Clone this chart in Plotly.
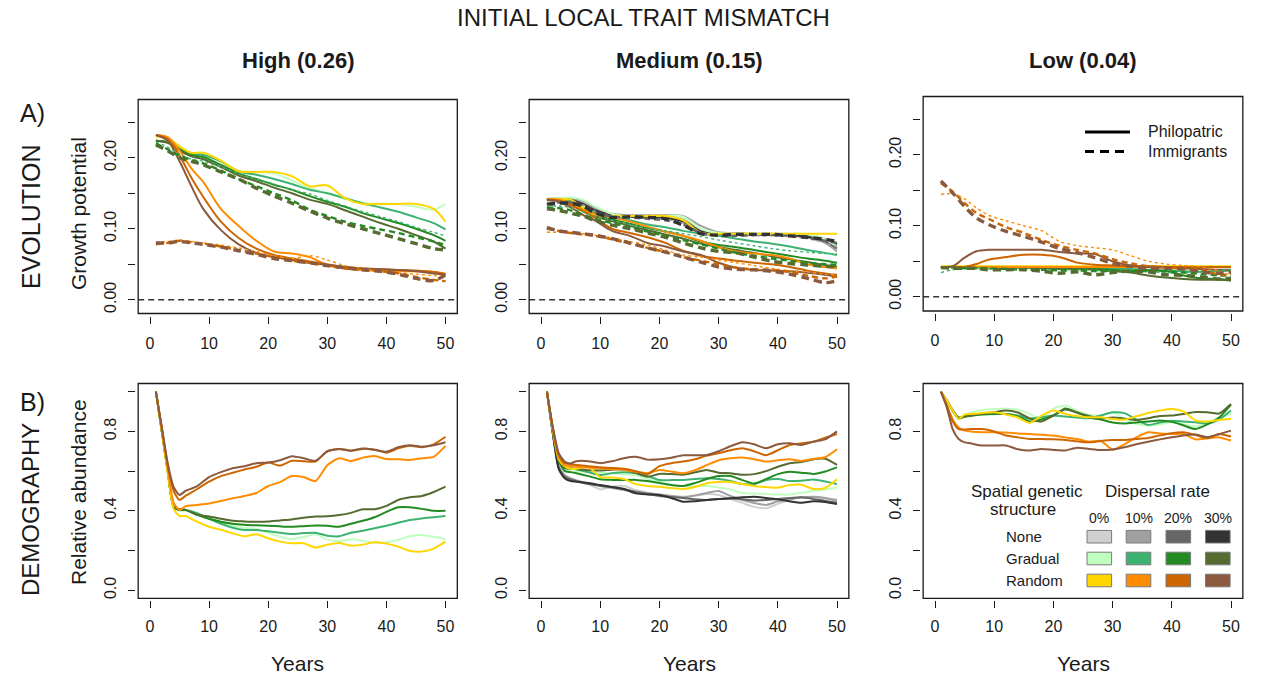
import plotly.graph_objects as go

W, H = 1266, 677
FONT = "Liberation Sans, Arial, Helvetica, sans-serif"
INK = "#1a1a1a"

# ---------------------------------------------------------------- data
YEARS_A = [1, 3, 5, 7, 9, 12, 15, 18, 21, 24, 27, 30, 33, 36, 39, 42, 45, 48, 50]
YEARS_B = [1, 2, 3, 4, 5, 6, 8, 10, 12, 14, 16, 18, 20, 22, 24, 26, 28, 30, 32,
           34, 36, 38, 40, 42, 44, 46, 48, 50]

STRUCTURES = ["None", "Gradual", "Random"]
RATES = ["0%", "10%", "20%", "30%"]
COLUMN_TITLES = ["High (0.26)", "Medium (0.15)", "Low (0.04)"]
X_TICKS = [0, 10, 20, 30, 40, 50]
A_TICKS = [0.0, 0.05, 0.10, 0.15, 0.20, 0.25]
A_TICK_TEXT = ["0.00", "", "0.10", "", "0.20", ""]
B_TICKS = [0.0, 0.2, 0.4, 0.6, 0.8, 1.0]
B_TICK_TEXT = ["0.0", "", "0.4", "", "0.8", ""]

# Growth potential, high mismatch (philopatric: 0,10,20,30 %; immigrants: 10,20,30 %)
HIGH_PHIL_GRADUAL = [
    [0.224, 0.222, 0.215, 0.207, 0.205, 0.195, 0.181, 0.180, 0.178, 0.168, 0.157, 0.150, 0.142, 0.136, 0.135, 0.135, 0.131, 0.127, 0.135],
    [0.224, 0.222, 0.214, 0.206, 0.204, 0.195, 0.181, 0.176, 0.170, 0.163, 0.155, 0.150, 0.143, 0.136, 0.130, 0.124, 0.116, 0.108, 0.099],
    [0.224, 0.222, 0.212, 0.204, 0.201, 0.190, 0.178, 0.170, 0.162, 0.155, 0.146, 0.138, 0.131, 0.122, 0.115, 0.108, 0.100, 0.091, 0.083],
    [0.224, 0.221, 0.210, 0.202, 0.198, 0.187, 0.175, 0.167, 0.158, 0.150, 0.141, 0.135, 0.126, 0.117, 0.108, 0.100, 0.091, 0.082, 0.072],
]
HIGH_PHIL_RANDOM = [
    [0.230, 0.228, 0.216, 0.207, 0.207, 0.196, 0.181, 0.180, 0.180, 0.174, 0.160, 0.161, 0.143, 0.135, 0.135, 0.135, 0.135, 0.128, 0.110],
    [0.232, 0.229, 0.210, 0.185, 0.166, 0.128, 0.104, 0.083, 0.068, 0.065, 0.060, 0.049, 0.044, 0.042, 0.041, 0.040, 0.040, 0.039, 0.037],
    [0.232, 0.226, 0.203, 0.172, 0.145, 0.110, 0.087, 0.072, 0.063, 0.058, 0.054, 0.050, 0.046, 0.044, 0.043, 0.042, 0.041, 0.039, 0.036],
    [0.232, 0.224, 0.195, 0.160, 0.128, 0.098, 0.078, 0.066, 0.060, 0.056, 0.052, 0.049, 0.046, 0.044, 0.043, 0.042, 0.040, 0.037, 0.035],
]
HIGH_IMM_GRADUAL = [
    [0.222, 0.215, 0.205, 0.198, 0.195, 0.187, 0.178, 0.170, 0.163, 0.155, 0.149, 0.140, 0.132, 0.124, 0.117, 0.110, 0.102, 0.095, 0.090],
    [0.220, 0.212, 0.203, 0.197, 0.192, 0.182, 0.170, 0.160, 0.150, 0.140, 0.127, 0.118, 0.110, 0.104, 0.099, 0.094, 0.088, 0.082, 0.077],
    [0.218, 0.210, 0.200, 0.195, 0.190, 0.180, 0.170, 0.157, 0.146, 0.136, 0.125, 0.115, 0.107, 0.100, 0.093, 0.086, 0.079, 0.072, 0.070],
]
HIGH_IMM_RANDOM = [
    [0.080, 0.082, 0.084, 0.082, 0.080, 0.077, 0.073, 0.068, 0.062, 0.058, 0.062, 0.056, 0.048, 0.044, 0.041, 0.038, 0.036, 0.034, 0.033],
    [0.078, 0.080, 0.083, 0.081, 0.079, 0.075, 0.070, 0.065, 0.060, 0.055, 0.052, 0.048, 0.044, 0.042, 0.040, 0.037, 0.032, 0.028, 0.026],
    [0.080, 0.080, 0.082, 0.080, 0.078, 0.074, 0.069, 0.064, 0.058, 0.055, 0.052, 0.048, 0.045, 0.042, 0.040, 0.036, 0.030, 0.027, 0.035],
]

# Growth potential, medium mismatch
MEDIUM_PHIL_NONE = [
    [0.142, 0.143, 0.142, 0.136, 0.126, 0.119, 0.118, 0.118, 0.118, 0.115, 0.098, 0.094, 0.093, 0.093, 0.093, 0.093, 0.092, 0.086, 0.080],
    [0.142, 0.143, 0.143, 0.140, 0.130, 0.121, 0.119, 0.119, 0.119, 0.118, 0.104, 0.095, 0.094, 0.093, 0.093, 0.092, 0.090, 0.080, 0.068],
    [0.141, 0.142, 0.141, 0.136, 0.127, 0.120, 0.118, 0.117, 0.116, 0.112, 0.097, 0.093, 0.092, 0.092, 0.092, 0.091, 0.088, 0.082, 0.072],
    [0.141, 0.142, 0.140, 0.135, 0.126, 0.119, 0.117, 0.116, 0.115, 0.110, 0.096, 0.093, 0.092, 0.092, 0.092, 0.091, 0.089, 0.085, 0.078],
]
MEDIUM_PHIL_GRADUAL = [
    [0.142, 0.143, 0.144, 0.141, 0.132, 0.121, 0.118, 0.118, 0.118, 0.117, 0.100, 0.094, 0.093, 0.093, 0.093, 0.093, 0.092, 0.085, 0.075],
    [0.142, 0.141, 0.138, 0.130, 0.123, 0.117, 0.112, 0.106, 0.102, 0.097, 0.093, 0.090, 0.086, 0.082, 0.079, 0.075, 0.070, 0.066, 0.063],
    [0.141, 0.140, 0.136, 0.128, 0.120, 0.113, 0.107, 0.101, 0.096, 0.090, 0.082, 0.077, 0.074, 0.070, 0.066, 0.062, 0.058, 0.055, 0.052],
    [0.140, 0.139, 0.134, 0.126, 0.118, 0.111, 0.104, 0.098, 0.092, 0.086, 0.079, 0.074, 0.070, 0.066, 0.061, 0.057, 0.053, 0.049, 0.046],
]
MEDIUM_PHIL_RANDOM = [
    [0.142, 0.142, 0.141, 0.130, 0.120, 0.118, 0.118, 0.118, 0.118, 0.112, 0.094, 0.093, 0.093, 0.093, 0.093, 0.093, 0.093, 0.093, 0.093],
    [0.142, 0.141, 0.136, 0.127, 0.121, 0.116, 0.110, 0.103, 0.096, 0.090, 0.083, 0.074, 0.068, 0.065, 0.063, 0.058, 0.050, 0.046, 0.044],
    [0.141, 0.140, 0.133, 0.125, 0.116, 0.100, 0.094, 0.088, 0.080, 0.069, 0.062, 0.058, 0.055, 0.052, 0.050, 0.046, 0.041, 0.037, 0.035],
    [0.141, 0.138, 0.130, 0.120, 0.112, 0.097, 0.090, 0.080, 0.075, 0.068, 0.063, 0.052, 0.045, 0.042, 0.041, 0.040, 0.038, 0.035, 0.032],
]
MEDIUM_IMM_NONE = [
    [0.136, 0.138, 0.138, 0.134, 0.125, 0.118, 0.116, 0.115, 0.113, 0.108, 0.095, 0.091, 0.090, 0.090, 0.090, 0.089, 0.086, 0.080, 0.075],
    [0.135, 0.137, 0.137, 0.133, 0.124, 0.117, 0.116, 0.114, 0.112, 0.106, 0.094, 0.090, 0.090, 0.091, 0.091, 0.090, 0.087, 0.083, 0.080],
    [0.134, 0.136, 0.136, 0.132, 0.123, 0.116, 0.117, 0.116, 0.114, 0.105, 0.093, 0.091, 0.092, 0.092, 0.092, 0.090, 0.088, 0.085, 0.082],
]
MEDIUM_IMM_GRADUAL = [
    [0.132, 0.132, 0.130, 0.124, 0.118, 0.112, 0.106, 0.101, 0.097, 0.093, 0.089, 0.084, 0.080, 0.076, 0.072, 0.069, 0.067, 0.065, 0.065],
    [0.130, 0.129, 0.126, 0.120, 0.114, 0.108, 0.102, 0.096, 0.090, 0.084, 0.078, 0.072, 0.066, 0.062, 0.058, 0.055, 0.052, 0.050, 0.049],
    [0.128, 0.126, 0.122, 0.118, 0.112, 0.105, 0.100, 0.094, 0.088, 0.080, 0.073, 0.068, 0.066, 0.060, 0.054, 0.051, 0.049, 0.047, 0.047],
]
MEDIUM_IMM_RANDOM = [
    [0.095, 0.095, 0.094, 0.093, 0.091, 0.087, 0.082, 0.077, 0.070, 0.063, 0.060, 0.056, 0.052, 0.048, 0.044, 0.041, 0.039, 0.036, 0.035],
    [0.100, 0.097, 0.094, 0.092, 0.090, 0.085, 0.079, 0.073, 0.067, 0.060, 0.055, 0.050, 0.045, 0.043, 0.042, 0.039, 0.034, 0.030, 0.033],
    [0.102, 0.097, 0.095, 0.093, 0.091, 0.086, 0.080, 0.073, 0.067, 0.060, 0.053, 0.046, 0.043, 0.042, 0.040, 0.036, 0.030, 0.024, 0.027],
]

# Growth potential, low mismatch
LOW_PHIL_GRADUAL = [
    [0.042, 0.042, 0.043, 0.043, 0.043, 0.043, 0.042, 0.042, 0.042, 0.042, 0.042, 0.042, 0.042, 0.042, 0.042, 0.042, 0.042, 0.042, 0.042],
    [0.042, 0.042, 0.042, 0.042, 0.042, 0.042, 0.042, 0.041, 0.041, 0.041, 0.040, 0.040, 0.039, 0.038, 0.037, 0.036, 0.035, 0.036, 0.037],
    [0.042, 0.042, 0.042, 0.042, 0.041, 0.041, 0.041, 0.041, 0.040, 0.040, 0.039, 0.038, 0.036, 0.037, 0.036, 0.030, 0.026, 0.025, 0.023],
    [0.042, 0.042, 0.042, 0.042, 0.041, 0.041, 0.041, 0.040, 0.039, 0.039, 0.038, 0.036, 0.034, 0.030, 0.027, 0.025, 0.024, 0.024, 0.023],
]
LOW_PHIL_RANDOM = [
    [0.043, 0.043, 0.043, 0.043, 0.043, 0.043, 0.043, 0.043, 0.043, 0.043, 0.043, 0.043, 0.043, 0.043, 0.043, 0.043, 0.043, 0.043, 0.043],
    [0.042, 0.042, 0.042, 0.042, 0.042, 0.042, 0.042, 0.042, 0.042, 0.042, 0.042, 0.042, 0.042, 0.042, 0.042, 0.042, 0.042, 0.042, 0.042],
    [0.042, 0.042, 0.042, 0.046, 0.052, 0.056, 0.059, 0.059, 0.056, 0.048, 0.045, 0.044, 0.043, 0.043, 0.042, 0.042, 0.042, 0.042, 0.042],
    [0.042, 0.043, 0.055, 0.064, 0.066, 0.066, 0.066, 0.066, 0.063, 0.061, 0.060, 0.050, 0.044, 0.042, 0.041, 0.040, 0.039, 0.038, 0.038],
]
LOW_IMM_GRADUAL = [
    [0.034, 0.038, 0.040, 0.040, 0.039, 0.039, 0.038, 0.038, 0.038, 0.038, 0.037, 0.036, 0.036, 0.035, 0.034, 0.034, 0.035, 0.037, 0.038],
    [0.041, 0.041, 0.040, 0.040, 0.040, 0.039, 0.038, 0.038, 0.037, 0.037, 0.036, 0.036, 0.036, 0.037, 0.036, 0.034, 0.032, 0.030, 0.030],
    [0.041, 0.040, 0.040, 0.040, 0.038, 0.038, 0.038, 0.036, 0.033, 0.035, 0.031, 0.034, 0.036, 0.035, 0.031, 0.030, 0.028, 0.025, 0.026],
]
LOW_IMM_RANDOM = [
    [0.144, 0.145, 0.138, 0.125, 0.115, 0.107, 0.100, 0.093, 0.078, 0.072, 0.069, 0.066, 0.058, 0.050, 0.046, 0.044, 0.042, 0.036, 0.030],
    [0.160, 0.148, 0.132, 0.118, 0.110, 0.098, 0.090, 0.080, 0.072, 0.066, 0.061, 0.053, 0.047, 0.043, 0.041, 0.040, 0.038, 0.031, 0.032],
    [0.163, 0.146, 0.127, 0.111, 0.102, 0.092, 0.085, 0.077, 0.068, 0.062, 0.055, 0.047, 0.043, 0.040, 0.040, 0.039, 0.035, 0.033, 0.035],
]

# Relative abundance (0, 10, 20, 30 % dispersal)
HIGH_ABUND_GRADUAL = [
    [1.0, 0.80, 0.60, 0.42, 0.400, 0.400, 0.378, 0.360, 0.345, 0.325, 0.315, 0.308, 0.290, 0.270, 0.258, 0.268, 0.284, 0.255, 0.248, 0.257, 0.250, 0.240, 0.242, 0.255, 0.272, 0.279, 0.270, 0.258],
    [1.0, 0.80, 0.60, 0.42, 0.404, 0.405, 0.388, 0.360, 0.335, 0.315, 0.304, 0.304, 0.297, 0.290, 0.284, 0.288, 0.290, 0.275, 0.272, 0.290, 0.300, 0.312, 0.325, 0.340, 0.354, 0.362, 0.368, 0.374],
    [1.0, 0.80, 0.60, 0.42, 0.404, 0.405, 0.380, 0.360, 0.345, 0.335, 0.330, 0.327, 0.325, 0.322, 0.320, 0.323, 0.326, 0.325, 0.320, 0.335, 0.350, 0.368, 0.395, 0.418, 0.418, 0.410, 0.400, 0.400],
    [1.0, 0.80, 0.60, 0.42, 0.408, 0.405, 0.380, 0.372, 0.360, 0.350, 0.347, 0.345, 0.346, 0.352, 0.357, 0.365, 0.371, 0.373, 0.379, 0.390, 0.408, 0.408, 0.425, 0.455, 0.468, 0.475, 0.495, 0.522],
]
HIGH_ABUND_RANDOM = [
    [1.0, 0.80, 0.59, 0.41, 0.374, 0.374, 0.345, 0.320, 0.305, 0.287, 0.272, 0.282, 0.262, 0.245, 0.237, 0.237, 0.215, 0.230, 0.238, 0.225, 0.230, 0.242, 0.235, 0.220, 0.198, 0.195, 0.210, 0.245],
    [1.0, 0.81, 0.61, 0.44, 0.404, 0.424, 0.430, 0.437, 0.450, 0.463, 0.475, 0.490, 0.525, 0.545, 0.575, 0.570, 0.550, 0.630, 0.665, 0.651, 0.668, 0.676, 0.661, 0.660, 0.656, 0.665, 0.672, 0.727],
    [1.0, 0.82, 0.63, 0.50, 0.455, 0.475, 0.510, 0.547, 0.575, 0.592, 0.608, 0.622, 0.643, 0.628, 0.652, 0.650, 0.648, 0.700, 0.712, 0.703, 0.712, 0.708, 0.693, 0.715, 0.728, 0.720, 0.735, 0.773],
    [1.0, 0.82, 0.64, 0.52, 0.480, 0.500, 0.525, 0.570, 0.595, 0.615, 0.625, 0.640, 0.643, 0.655, 0.675, 0.665, 0.652, 0.700, 0.712, 0.703, 0.714, 0.708, 0.698, 0.720, 0.730, 0.723, 0.730, 0.745],
]
MEDIUM_ABUND_NONE = [
    [1.0, 0.79, 0.62, 0.580, 0.565, 0.555, 0.535, 0.508, 0.522, 0.525, 0.505, 0.490, 0.480, 0.475, 0.471, 0.475, 0.485, 0.480, 0.460, 0.440, 0.420, 0.413, 0.435, 0.455, 0.470, 0.467, 0.462, 0.458],
    [1.0, 0.79, 0.62, 0.578, 0.563, 0.552, 0.540, 0.525, 0.515, 0.505, 0.498, 0.490, 0.483, 0.475, 0.468, 0.478, 0.490, 0.500, 0.475, 0.455, 0.440, 0.430, 0.448, 0.458, 0.467, 0.471, 0.465, 0.451],
    [1.0, 0.79, 0.62, 0.572, 0.558, 0.550, 0.535, 0.527, 0.520, 0.510, 0.495, 0.485, 0.475, 0.470, 0.465, 0.458, 0.455, 0.460, 0.462, 0.458, 0.452, 0.455, 0.460, 0.465, 0.468, 0.460, 0.450, 0.441],
    [1.0, 0.79, 0.61, 0.564, 0.550, 0.547, 0.540, 0.530, 0.520, 0.510, 0.488, 0.483, 0.480, 0.465, 0.446, 0.448, 0.455, 0.460, 0.463, 0.468, 0.471, 0.465, 0.458, 0.448, 0.441, 0.448, 0.445, 0.434],
]
MEDIUM_ABUND_GRADUAL = [
    [1.0, 0.80, 0.66, 0.605, 0.600, 0.598, 0.595, 0.592, 0.588, 0.584, 0.580, 0.560, 0.545, 0.530, 0.525, 0.525, 0.525, 0.518, 0.508, 0.490, 0.487, 0.485, 0.482, 0.482, 0.492, 0.500, 0.508, 0.518],
    [1.0, 0.81, 0.66, 0.620, 0.615, 0.610, 0.595, 0.580, 0.590, 0.595, 0.590, 0.575, 0.555, 0.555, 0.556, 0.560, 0.564, 0.560, 0.550, 0.535, 0.535, 0.555, 0.560, 0.550, 0.552, 0.558, 0.548, 0.535],
    [1.0, 0.80, 0.65, 0.600, 0.595, 0.589, 0.575, 0.559, 0.556, 0.555, 0.556, 0.550, 0.540, 0.530, 0.525, 0.540, 0.560, 0.575, 0.575, 0.555, 0.538, 0.560, 0.585, 0.597, 0.592, 0.586, 0.598, 0.619],
    [1.0, 0.81, 0.66, 0.615, 0.612, 0.610, 0.605, 0.603, 0.607, 0.609, 0.590, 0.572, 0.586, 0.585, 0.582, 0.594, 0.606, 0.592, 0.589, 0.582, 0.585, 0.600, 0.622, 0.640, 0.646, 0.660, 0.662, 0.631],
]
MEDIUM_ABUND_RANDOM = [
    [1.0, 0.81, 0.66, 0.625, 0.612, 0.612, 0.622, 0.570, 0.568, 0.560, 0.535, 0.525, 0.522, 0.515, 0.510, 0.520, 0.539, 0.545, 0.545, 0.535, 0.525, 0.520, 0.517, 0.530, 0.532, 0.510, 0.515, 0.559],
    [1.0, 0.81, 0.67, 0.630, 0.625, 0.622, 0.618, 0.614, 0.610, 0.606, 0.597, 0.590, 0.606, 0.598, 0.589, 0.605, 0.630, 0.655, 0.665, 0.669, 0.660, 0.648, 0.655, 0.660, 0.651, 0.662, 0.670, 0.710],
    [1.0, 0.82, 0.68, 0.640, 0.635, 0.631, 0.625, 0.619, 0.616, 0.612, 0.600, 0.585, 0.625, 0.640, 0.648, 0.660, 0.678, 0.690, 0.705, 0.715, 0.700, 0.680, 0.705, 0.732, 0.740, 0.748, 0.768, 0.787],
    [1.0, 0.82, 0.69, 0.648, 0.639, 0.650, 0.650, 0.640, 0.650, 0.665, 0.672, 0.658, 0.660, 0.668, 0.680, 0.680, 0.681, 0.700, 0.725, 0.745, 0.735, 0.715, 0.735, 0.740, 0.732, 0.748, 0.760, 0.800],
]
LOW_ABUND_GRADUAL = [
    [1.0, 0.955, 0.905, 0.865, 0.880, 0.895, 0.908, 0.913, 0.916, 0.910, 0.888, 0.863, 0.915, 0.930, 0.905, 0.885, 0.880, 0.896, 0.862, 0.837, 0.830, 0.835, 0.846, 0.837, 0.825, 0.845, 0.870, 0.888],
    [1.0, 0.955, 0.905, 0.865, 0.875, 0.885, 0.888, 0.888, 0.888, 0.880, 0.865, 0.872, 0.880, 0.875, 0.870, 0.866, 0.880, 0.896, 0.892, 0.860, 0.832, 0.845, 0.854, 0.850, 0.846, 0.840, 0.860, 0.905],
    [1.0, 0.955, 0.905, 0.865, 0.875, 0.879, 0.885, 0.888, 0.888, 0.875, 0.850, 0.860, 0.880, 0.915, 0.895, 0.870, 0.860, 0.845, 0.840, 0.845, 0.850, 0.855, 0.848, 0.830, 0.812, 0.835, 0.870, 0.935],
    [1.0, 0.955, 0.905, 0.870, 0.875, 0.879, 0.890, 0.897, 0.905, 0.895, 0.865, 0.850, 0.880, 0.910, 0.895, 0.878, 0.866, 0.870, 0.865, 0.858, 0.866, 0.878, 0.880, 0.888, 0.898, 0.896, 0.890, 0.938],
]
LOW_ABUND_RANDOM = [
    [1.0, 0.955, 0.905, 0.863, 0.885, 0.888, 0.893, 0.896, 0.885, 0.870, 0.843, 0.880, 0.905, 0.888, 0.878, 0.871, 0.871, 0.862, 0.860, 0.876, 0.893, 0.905, 0.913, 0.900, 0.855, 0.850, 0.858, 0.863],
    [1.0, 0.93, 0.86, 0.820, 0.804, 0.800, 0.796, 0.796, 0.795, 0.790, 0.787, 0.783, 0.779, 0.770, 0.762, 0.748, 0.752, 0.708, 0.735, 0.770, 0.796, 0.790, 0.787, 0.787, 0.760, 0.765, 0.770, 0.754],
    [1.0, 0.93, 0.85, 0.812, 0.810, 0.812, 0.812, 0.800, 0.779, 0.770, 0.762, 0.762, 0.760, 0.757, 0.750, 0.745, 0.752, 0.757, 0.757, 0.762, 0.767, 0.780, 0.791, 0.796, 0.782, 0.766, 0.787, 0.774],
    [1.0, 0.92, 0.81, 0.762, 0.745, 0.740, 0.729, 0.729, 0.729, 0.710, 0.704, 0.712, 0.707, 0.704, 0.718, 0.712, 0.706, 0.709, 0.720, 0.735, 0.748, 0.760, 0.771, 0.780, 0.784, 0.772, 0.786, 0.804],
]

# ---------------------------------------------------------------- styles
PALETTE = {
    "None": ["#D0D0D0", "#A0A0A0", "#666666", "#333333"],
    "Gradual": ["#C1FFC1", "#3CB371", "#228B22", "#556B2F"],
    "Random": ["#FFD700", "#FF8C00", "#CD6600", "#8B5A3E"],
}
SOLID_WIDTH = 2.0
# immigrant curves: width and dash grow with the dispersal rate (10, 20, 30 %)
IMM_STYLE = [(1.4, "3px,3px"), (2.4, "6px,4px"), (3.4, "8px,5px")]

# panel geometry in pixels: x of year 0 / year 50, y of two tick values, box top / bottom
COL_X = [(150.0, 445.5), (541.0, 837.0), (935.0, 1231.0)]
ROW_Y = {
    "A": dict(p0=299.7, p1=122.3, v0=0.0, v1=0.25, top=99.5, bottom=313.5),
    "A3": dict(p0=296.7, p1=119.3, v0=0.0, v1=0.25, top=96.5, bottom=311.0),
    "B": dict(p0=590.3, p1=391.7, v0=0.0, v1=1.0, top=383.5, bottom=598.3),
}
GAP = 2.0  # distance between the frame and the tick marks

PANELS = [
    # (row geometry key, column, philopatric groups, immigrant groups)
    ("A", 0, {"Gradual": HIGH_PHIL_GRADUAL, "Random": HIGH_PHIL_RANDOM},
     {"Gradual": HIGH_IMM_GRADUAL, "Random": HIGH_IMM_RANDOM}),
    ("A", 1, {"None": MEDIUM_PHIL_NONE, "Gradual": MEDIUM_PHIL_GRADUAL, "Random": MEDIUM_PHIL_RANDOM},
     {"None": MEDIUM_IMM_NONE, "Gradual": MEDIUM_IMM_GRADUAL, "Random": MEDIUM_IMM_RANDOM}),
    ("A3", 2, {"Gradual": LOW_PHIL_GRADUAL, "Random": LOW_PHIL_RANDOM},
     {"Gradual": LOW_IMM_GRADUAL, "Random": LOW_IMM_RANDOM}),
    ("B", 0, {"Gradual": HIGH_ABUND_GRADUAL, "Random": HIGH_ABUND_RANDOM}, {}),
    ("B", 1, {"None": MEDIUM_ABUND_NONE, "Gradual": MEDIUM_ABUND_GRADUAL, "Random": MEDIUM_ABUND_RANDOM}, {}),
    ("B", 2, {"Gradual": LOW_ABUND_GRADUAL, "Random": LOW_ABUND_RANDOM}, {}),
]


def px_x(p):
    return p / W


def px_y(p):
    return 1 - p / H


fig = go.Figure()
shapes = []
annotations = []
layout_axes = {}


def text(t, x, y, size, angle=0, bold=False, xanchor="center"):
    annotations.append(dict(
        text=f"<b>{t}</b>" if bold else t, x=px_x(x), y=px_y(y),
        xref="paper", yref="paper", showarrow=False, textangle=angle,
        xanchor=xanchor, yanchor="middle",
        font=dict(size=size, family=FONT, color=INK)))


for i, (rowkey, col, phil, imm) in enumerate(PANELS, start=1):
    xs = "" if i == 1 else str(i)
    xa, ya = "x" + xs, "y" + xs
    x0p, x50p = COL_X[col]
    ppu = (x50p - x0p) / 50.0
    left, right = x0p - 2 * ppu, x0p + 52 * ppu
    g = ROW_Y[rowkey]
    vpp = (g["v1"] - g["v0"]) / (g["p0"] - g["p1"])

    def val_at(p, g=g, vpp=vpp):
        return g["v0"] + (g["p0"] - p) * vpp

    is_a = rowkey.startswith("A")
    years = YEARS_A if is_a else YEARS_B

    layout_axes["xaxis" + xs] = dict(
        domain=[px_x(left - GAP), px_x(right)], anchor=ya,
        range=[-2 - GAP / ppu, 52], tickvals=X_TICKS, ticktext=[str(t) for t in X_TICKS],
        showgrid=False, zeroline=False, showline=False, ticks="outside", ticklen=7,
        tickwidth=1.2, tickcolor=INK, tickfont=dict(size=16, color=INK, family=FONT),
        ticklabelstandoff=6 if is_a else 4,
    )
    layout_axes["yaxis" + xs] = dict(
        domain=[px_y(g["bottom"] + GAP), px_y(g["top"])], anchor=xa,
        range=[val_at(g["bottom"] + GAP), val_at(g["top"])],
        tickvals=A_TICKS if is_a else B_TICKS,
        ticktext=A_TICK_TEXT if is_a else B_TICK_TEXT,
        tickangle=-90, showgrid=False, zeroline=False, showline=False,
        ticks="outside", ticklen=7, tickwidth=1.2, tickcolor=INK,
        tickfont=dict(size=16, color=INK, family=FONT), ticklabelstandoff=6,
    )

    # philopatric (solid) curves
    for struct in STRUCTURES:
        if struct not in phil:
            continue
        for r, series in enumerate(phil[struct]):
            fig.add_trace(go.Scatter(
                x=years, y=series, mode="lines", xaxis=xa, yaxis=ya,
                line=dict(color=PALETTE[struct][r], width=SOLID_WIDTH,
                          shape="spline", smoothing=0.9 if is_a else 0.6),
                showlegend=False, hoverinfo="skip"))
    # immigrant (dashed) curves
    for struct in STRUCTURES:
        if struct not in imm:
            continue
        for r, series in enumerate(imm[struct]):
            w, d = IMM_STYLE[r]
            fig.add_trace(go.Scatter(
                x=years, y=series, mode="lines", xaxis=xa, yaxis=ya,
                line=dict(color=PALETTE[struct][r + 1], width=w, dash=d,
                          shape="spline", smoothing=0.9),
                showlegend=False, hoverinfo="skip"))

    # zero reference line in the evolution panels
    if is_a:
        shapes.append(dict(type="line", xref="paper", yref=ya,
                           x0=px_x(left), x1=px_x(right), y0=0, y1=0,
                           line=dict(color="#333333", width=1.4, dash="6px,4px")))
    # panel frame
    shapes.append(dict(type="rect", xref="paper", yref="paper",
                       x0=px_x(left), x1=px_x(right),
                       y0=px_y(g["bottom"]), y1=px_y(g["top"]),
                       line=dict(color=INK, width=1.3), fillcolor="rgba(0,0,0,0)"))

    if not is_a:
        text("Years", (left + right) / 2, 663, 21)


# titles
text("INITIAL LOCAL TRAIT MISMATCH", 643, 18, 24)
for col, title in enumerate(COLUMN_TITLES):
    x0p, x50p = COL_X[col]
    ppu = (x50p - x0p) / 50.0
    text(title, x0p + 25 * ppu, 61, 22, bold=True)

# row labels
text("A)", 32, 113, 25)
text("B)", 32, 402, 25)
text("EVOLUTION", 31, 217, 25, angle=-90)
text("DEMOGRAPHY", 31, 510, 24, angle=-90)
text("Growth potential", 78, 214, 21, angle=-90)
text("Relative abundance", 78, 492, 21, angle=-90)

# line-type key (evolution, low mismatch)
shapes.append(dict(type="line", xref="paper", yref="paper",
                   x0=px_x(1085), x1=px_x(1130), y0=px_y(132), y1=px_y(132),
                   line=dict(color="#000000", width=3)))
shapes.append(dict(type="line", xref="paper", yref="paper",
                   x0=px_x(1085), x1=px_x(1130), y0=px_y(151.5), y1=px_y(151.5),
                   line=dict(color="#000000", width=3, dash="9px,6px")))
text("Philopatric", 1146, 131, 16, xanchor="left")
text("Immigrants", 1146, 151, 16, xanchor="left")

# colour key (demography, low mismatch)
text("Spatial genetic", 1027, 491, 17)
text("structure", 1023, 509, 17)
text("Dispersal rate", 1157, 491, 17)
KEY_X = [1099.3, 1138.5, 1178.3, 1217.8]
KEY_Y = {"None": 536.7, "Gradual": 558.5, "Random": 580.5}
for r, lab in enumerate(RATES):
    text(lab, KEY_X[r], 518, 14)
for struct in STRUCTURES:
    yc = KEY_Y[struct]
    text(struct, 1004, yc, 15, xanchor="left")
    for r in range(4):
        shapes.append(dict(type="rect", xref="paper", yref="paper",
                           x0=px_x(KEY_X[r] - 12.3), x1=px_x(KEY_X[r] + 12.3),
                           y0=px_y(yc + 6.3), y1=px_y(yc - 6.3),
                           fillcolor=PALETTE[struct][r],
                           line=dict(color="#7a7a7a", width=1)))

fig.update_layout(
    width=W, height=H, margin=dict(l=0, r=0, t=0, b=0),
    paper_bgcolor="white", plot_bgcolor="white",
    font=dict(family=FONT, color=INK),
    shapes=shapes, annotations=annotations, showlegend=False,
    **layout_axes,
)

fig.write_html("out.html")
